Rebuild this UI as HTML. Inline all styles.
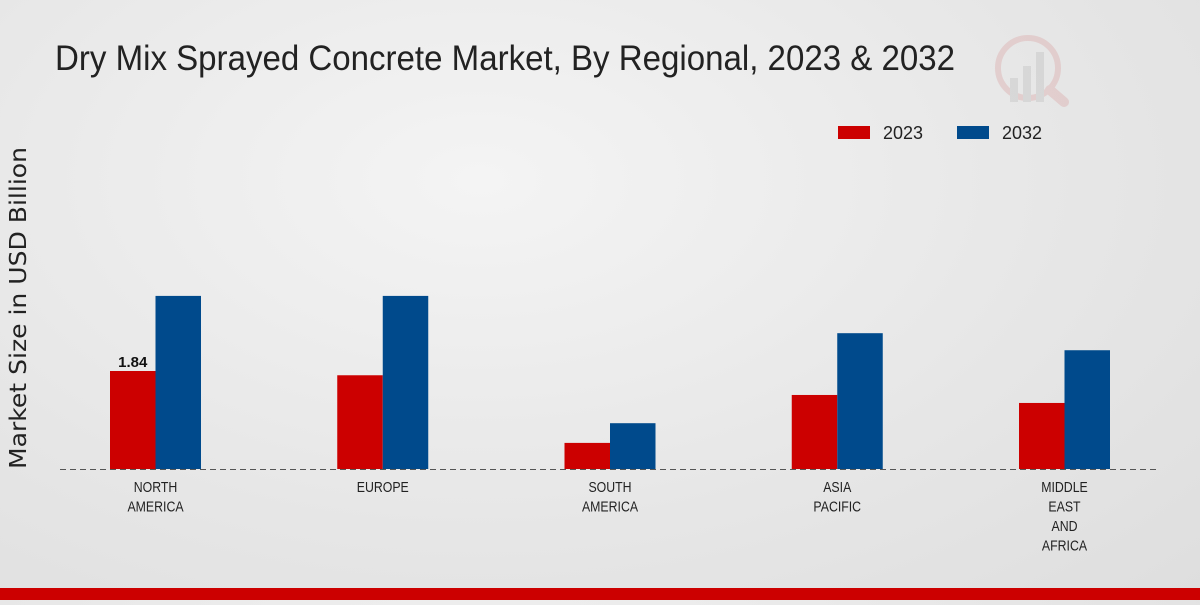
<!DOCTYPE html>
<html><head><meta charset="utf-8"><style>
html,body{margin:0;padding:0;}
body{width:1200px;height:600px;overflow:hidden;background:radial-gradient(ellipse at 40% 30%,#f4f4f4 0%,#e6e6e6 60%,#dedede 100%);font-family:"Liberation Sans",sans-serif;}
</style></head><body>
<svg width="1200" height="600" xmlns="http://www.w3.org/2000/svg">
<text x="55" y="70" font-family="'Liberation Sans',sans-serif" font-size="35" fill="#222" textLength="900" lengthAdjust="spacingAndGlyphs">Dry Mix Sprayed Concrete Market, By Regional, 2023 &amp; 2032</text>
<g opacity="0.35">
<circle cx="1028" cy="68" r="30" fill="none" stroke="#d9a0a0" stroke-width="6"/>
<rect x="1010" y="78" width="8" height="24" fill="#bbb"/><rect x="1023" y="66" width="8" height="36" fill="#bbb"/><rect x="1036" y="52" width="8" height="50" fill="#bbb"/>
<line x1="1050" y1="90" x2="1064" y2="102" stroke="#d9a0a0" stroke-width="10" stroke-linecap="round"/>
</g>
<g>
<rect x="838" y="126" width="32" height="13" fill="#cc0000"/>
<text x="883" y="139" font-size="18" fill="#222" textLength="40" lengthAdjust="spacingAndGlyphs">2023</text>
<rect x="957" y="126" width="32" height="13" fill="#004a8c"/>
<text x="1002" y="139" font-size="18" fill="#222" textLength="40" lengthAdjust="spacingAndGlyphs">2032</text>
</g>
<text transform="translate(26,308) rotate(-90)" text-anchor="middle" font-size="23" fill="#222" textLength="322" lengthAdjust="spacingAndGlyphs" font-family="'DejaVu Sans',sans-serif">Market Size in USD Billion</text>
<g id="bars"></g>
<line x1="60" y1="469.5" x2="1160" y2="469.5" stroke="#555" stroke-dasharray="6,4"/>
<g id="labels"></g>
<rect x="0" y="588" width="1200" height="12" fill="#cc0000"/>
</svg>
<script>
const categories=[["NORTH","AMERICA"],["EUROPE"],["SOUTH","AMERICA"],["ASIA","PACIFIC"],["MIDDLE","EAST","AND","AFRICA"]];
const values2023=[1.84,1.76,0.49,1.39,1.24];
const values2032=[3.25,3.25,0.86,2.55,2.23];
const shownLabels=["1.84",null,null,null,null];
const NS="http://www.w3.org/2000/svg";
const base=469, pxPerUnit=53.26, x0=155.5, step=227.25, bw=45.5;
const y=v=>base-v*pxPerUnit;
const xc=i=>x0+i*step;
const bars=document.getElementById('bars'), labels=document.getElementById('labels');
function mk(t,a){const e=document.createElementNS(NS,t);for(const k in a)e.setAttribute(k,a[k]);return e;}
categories.forEach((c,i)=>{
  const r=mk('rect',{x:xc(i)-bw,y:y(values2023[i]),width:bw,height:base-y(values2023[i]),fill:'#cc0000'});
  
  
  bars.appendChild(r);
  const b=mk('rect',{x:xc(i),y:y(values2032[i]),width:bw,height:base-y(values2032[i]),fill:'#004a8c'});
  
  
  bars.appendChild(b);
  if(shownLabels[i]){
    const t=mk('text',{x:xc(i)-bw/2,y:y(values2023[i])-4,'text-anchor':'middle','font-size':15,'font-weight':'bold',fill:'#111'});
    t.textContent=shownLabels[i];
    
    
    labels.appendChild(t);
  }
  const g=mk('g',{transform:'translate('+xc(i)+',0) scale(0.85,1)'});
  const tl=mk('text',{x:0,'text-anchor':'middle','font-size':14.5,fill:'#222'});
  
  
  c.forEach((ln,j)=>{const s=mk('tspan',{x:0,y:492+j*19.5});s.textContent=ln;tl.appendChild(s);});
  g.appendChild(tl);
  labels.appendChild(g);
});
</script>
</body></html>
